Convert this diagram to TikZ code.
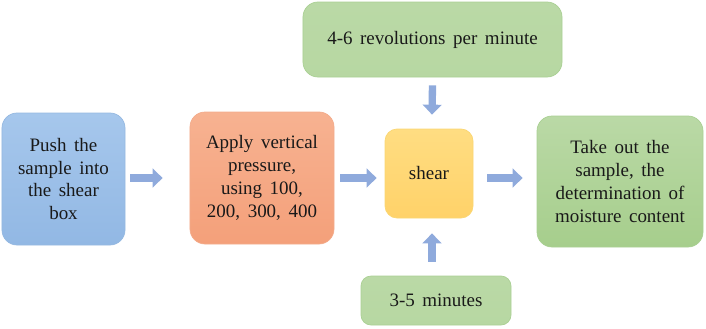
\documentclass[tikz,border=0pt]{standalone}
\usepackage{fontspec}
\setmainfont{Liberation Serif}
\usetikzlibrary{arrows.meta,calc}

\definecolor{blueTop}{RGB}{166,199,236}
\definecolor{blueBot}{RGB}{146,184,228}
\definecolor{blueLine}{RGB}{150,185,225}
\definecolor{orangeTop}{RGB}{247,178,145}
\definecolor{orangeBot}{RGB}{244,160,122}
\definecolor{orangeLine}{RGB}{243,172,140}
\definecolor{yellowTop}{RGB}{255,221,130}
\definecolor{yellowBot}{RGB}{255,210,105}
\definecolor{yellowLine}{RGB}{250,214,115}
\definecolor{greenTop}{RGB}{186,217,166}
\definecolor{greenBot}{RGB}{166,206,140}
\definecolor{greenLine}{RGB}{170,208,148}
\definecolor{arrowFill}{RGB}{143,170,220}
\definecolor{inkText}{RGB}{25,25,25}

\newcommand\boxfont{\fontsize{16.2}{19.6}\selectfont\spaceskip=0.4em plus 0.1em\relax}

\begin{document}
\begin{tikzpicture}[x=0.03cm, y=-0.03cm,
    box/.style={rectangle, rounded corners=0.45cm, draw, line width=0.6pt,
        align=center, text=inkText, font=\boxfont},
    flow/.style={draw=arrowFill, line width=0.22cm,
        -{Triangle[length=0.3cm, width=0.56cm]}}]
    \useasboundingbox (0,0) rectangle (706,328);

    % Boxes
    \node (push) [box, minimum width=3.69cm, minimum height=3.96cm,
        draw=blueLine, top color=blueTop, bottom color=blueBot]
        at (63.5,179) {Push the\\sample into\\the shear\\box};
    \node (apply) [box, minimum width=4.32cm, minimum height=3.96cm,
        draw=orangeLine, top color=orangeTop, bottom color=orangeBot]
        at (262,178) {Apply vertical\\pressure,\\using 100,\\200, 300, 400};
    \node (shear) [box, rounded corners=0.36cm, minimum width=2.64cm, minimum height=2.67cm,
        draw=yellowLine, top color=yellowTop, bottom color=yellowBot]
        at (429,173.5) {shear};
    \node (speed) [box, minimum width=7.77cm, minimum height=2.25cm,
        draw=greenLine, top color=greenTop, bottom color=greenTop!85!greenBot]
        at (432.5,39.5) {4-6 revolutions per minute};
    \node (time) [box, rounded corners=0.3cm, minimum width=4.5cm, minimum height=1.47cm,
        draw=greenLine, top color=greenTop, bottom color=greenTop!85!greenBot]
        at (436,300.5) {3-5 minutes};
    \node (takeout) [box, minimum width=4.98cm, minimum height=3.93cm,
        draw=greenLine, top color=greenTop, bottom color=greenBot]
        at (620,181.5) {Take out the\\sample, the\\determination of\\moisture content};

    % Arrows
    \draw[flow] ($(push.east)+(5,-1)$) -- ($(apply.west)+(-27,0)$);
    \draw[flow] ($(apply.east)+(6,0)$) -- ($(shear.west)+(-8,4.5)$);
    \draw[flow] ($(shear.east)+(14,4.5)$) -- ($(takeout.west)+(-14,-3.5)$);
    \draw[flow] ($(speed.south)+(0,8)$) -- ($(shear.north)+(3,-14)$);
    \draw[flow] ($(time.north)+(-4,-14)$) -- ($(shear.south)+(3,15)$);
\end{tikzpicture}
\end{document}
